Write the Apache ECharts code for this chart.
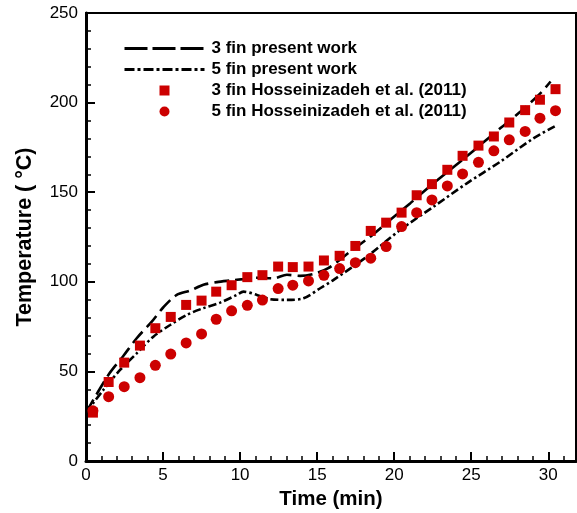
<!DOCTYPE html>
<html>
<head>
<meta charset="utf-8">
<script src="https://cdn.jsdelivr.net/npm/echarts@6/dist/echarts.min.js"></script>
<style>html,body{margin:0;padding:0;background:#fff;}#c{width:577px;height:513px;}</style>
</head>
<body>
<div id="c"></div>
<script>
// ---- data ----
const xTicks = [0, 5, 10, 15, 20, 25, 30];
const yTicks = [0, 50, 100, 150, 200, 250];

const line3Time = [0, 1.45, 2.42, 3.29, 4.27, 5.02, 5.89, 6.76, 7.62, 8.49, 9.36, 10.22, 11.09, 12.17, 13.04, 13.9, 14.77, 15.72, 17.15, 18.45, 19.75, 21.05, 22.57, 24.3, 25.6, 26.9, 28.2, 29.5, 30.15];
const line3Temp = [27, 48.0, 58.6, 68.5, 77.8, 85.8, 92.7, 95.1, 98.3, 99.8, 100.7, 101.5, 102.3, 102.0, 103.9, 103.3, 104.4, 107.6, 116.9, 125.2, 134.6, 143.9, 155.1, 167.1, 176.4, 185.8, 195.0, 205.3, 211.8];

const line5Time = [0, 1.12, 2.21, 3.29, 4.37, 5.46, 6.54, 7.62, 8.71, 9.79, 10.22, 11.09, 11.96, 13.04, 14.12, 15.2, 16.07, 18.24, 20.4, 22.57, 24.74, 26.9, 29.06, 30.47];
const line5Temp = [27, 39.6, 50.8, 60.1, 69.4, 75.9, 81.5, 85.3, 88.4, 92.7, 94.5, 92.7, 90.3, 89.9, 90.8, 96.4, 101.1, 114.1, 129.0, 142.0, 155.1, 167.1, 180.2, 187.0];

const expTime = [0.45, 1.47, 2.48, 3.5, 4.5, 5.5, 6.5, 7.5, 8.45, 9.45, 10.47, 11.45, 12.47, 13.42, 14.44, 15.44, 16.46, 17.48, 18.48, 19.48, 20.48, 21.46, 22.45, 23.45, 24.44, 25.47, 26.47, 27.47, 28.5, 29.46, 30.47];
const exp3Temp = [27.0, 44.1, 54.9, 64.4, 74.1, 80.4, 87.1, 89.5, 94.5, 98.1, 102.6, 103.7, 108.5, 108.2, 108.5, 111.9, 114.5, 120.0, 128.4, 133.0, 138.6, 148.3, 154.5, 162.5, 170.3, 176.0, 181.1, 188.9, 195.8, 201.6, 207.5];
const exp5Temp = [28.0, 35.9, 41.5, 46.5, 53.4, 59.7, 65.9, 70.9, 79.1, 83.8, 86.9, 89.8, 96.2, 98.1, 100.5, 103.6, 107.4, 110.7, 113.2, 119.7, 130.8, 138.6, 145.7, 153.5, 160.2, 166.7, 173.1, 179.2, 183.9, 191.3, 195.5];

const names = ['3 fin present work', '5 fin present work', '3 fin Hosseinizadeh et al. (2011)', '5 fin Hosseinizadeh et al. (2011)'];

const zip = (a, b) => a.map((v, i) => [v, b[i]]);

const chart = echarts.init(document.getElementById('c'), null, {renderer: 'canvas'});
const FONT = 'Liberation Sans, Arial, sans-serif';
const RED = '#cc0000';
const SQUARE = 'path://M0,0H10V10H0Z';

chart.setOption({
  animation: false,
  backgroundColor: '#fff',
  grid: {left: 86, top: 13, right: 1, bottom: 52, show: true, borderColor: '#000', borderWidth: 2,
    containLabel: false, outerBoundsMode: 'none'},
  legend: {
    orient: 'vertical', left: 118, top: 35,
    itemWidth: 80, itemHeight: 10, itemGap: 4,
    textStyle: {fontFamily: FONT, fontWeight: 'bold', fontSize: 17, color: '#000', padding: [0, 0, 0, 2]},
    data: [
      {name: names[0], itemStyle: {opacity: 0}, lineStyle: {type: [23, 5], width: 3}},
      {name: names[1], itemStyle: {opacity: 0}, lineStyle: {type: [10, 3, 3, 3], width: 3}},
      {name: names[2], icon: SQUARE},
      {name: names[3], icon: 'circle'}
    ]
  },
  xAxis: [{
    type: 'value', min: 0, max: 31.8, interval: 5,
    name: 'Time (min)', nameLocation: 'middle', nameGap: 28,
    nameTextStyle: {fontFamily: FONT, fontWeight: 'bold', fontSize: 20.5, color: '#000'},
    axisLine: {show: true, onZero: false, lineStyle: {color: '#000', width: 3}},
    axisTick: {show: true, inside: true, length: 9, lineStyle: {color: '#000', width: 2}},
    axisLabel: {fontFamily: FONT, fontSize: 17, color: '#000', margin: 6, showMaxLabel: false,
      formatter: v => (xTicks.indexOf(v) >= 0 ? String(v) : '')},
    splitLine: {show: false}
  }, {
    type: 'value', min: 0, max: 31.8, interval: 1, position: 'bottom',
    axisLine: {show: false},
    axisTick: {show: true, inside: true, length: 5, lineStyle: {color: '#000', width: 1.5}},
    axisLabel: {show: false},
    splitLine: {show: false}
  }],
  yAxis: {
    type: 'value', min: 0, max: 250, interval: 50,
    name: 'Temperature ( °C)', nameLocation: 'middle', nameGap: 50,
    nameTextStyle: {fontFamily: FONT, fontWeight: 'bold', fontSize: 21.5, color: '#000'},
    axisLine: {show: true, onZero: false, lineStyle: {color: '#000', width: 3}},
    axisTick: {show: true, inside: true, length: 9, lineStyle: {color: '#000', width: 2}},
    minorTick: {show: true, splitNumber: 5, length: 5, lineStyle: {color: '#000', width: 1.5}},
    axisLabel: {fontFamily: FONT, fontSize: 17, color: '#000', margin: 8,
      formatter: v => (yTicks.indexOf(v) >= 0 ? String(v) : '')},
    splitLine: {show: false}
  },
  series: [{
    name: names[0], type: 'line', data: zip(line3Time, line3Temp),
    symbol: 'none', showSymbol: false, smooth: 0.3, z: 3,
    lineStyle: {color: '#000', width: 2.6, type: [15, 6]},
    itemStyle: {color: '#000'}
  }, {
    name: names[1], type: 'line', data: zip(line5Time, line5Temp),
    symbol: 'none', showSymbol: false, smooth: 0.3, z: 3,
    lineStyle: {color: '#000', width: 2.6, type: [8, 3, 2.5, 3]},
    itemStyle: {color: '#000'}
  }, {
    name: names[2], type: 'scatter', data: zip(expTime, exp3Temp),
    symbol: SQUARE, symbolSize: 10, z: 4,
    itemStyle: {color: RED, opacity: 1}
  }, {
    name: names[3], type: 'scatter', data: zip(expTime, exp5Temp),
    symbol: 'circle', symbolSize: 11, z: 4,
    itemStyle: {color: RED, opacity: 1}
  }]
});
</script>
</body>
</html>
